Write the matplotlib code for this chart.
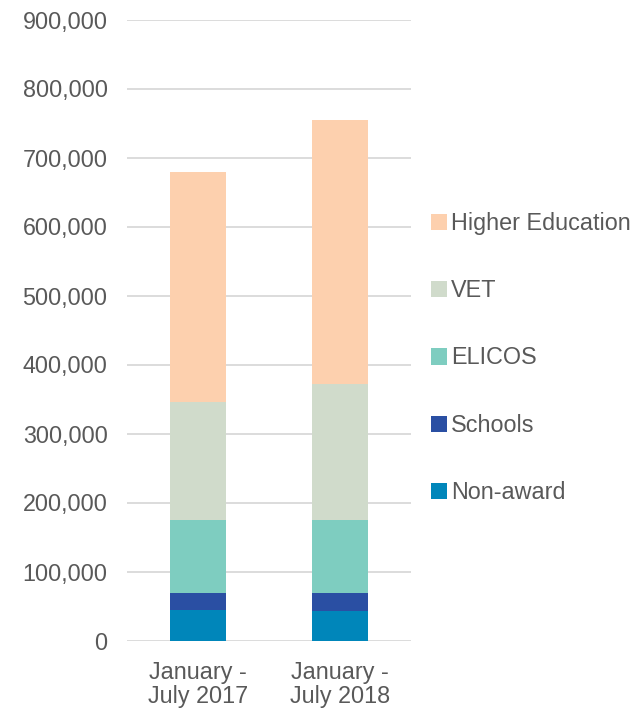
import matplotlib
matplotlib.use("Agg")
import matplotlib.pyplot as plt
from matplotlib.patches import Patch
from matplotlib.ticker import FuncFormatter

categories = ["January -\nJuly 2017", "January -\nJuly 2018"]
series_names = ["Non-award", "Schools", "ELICOS", "VET", "Higher Education"]
non_award = [43800, 43200]
schools = [24600, 26100]
elicos = [106200, 105800]
vet = [171100, 196200]
higher_ed = [333700, 382600]
yticks = [0, 100000, 200000, 300000, 400000, 500000, 600000, 700000, 800000, 900000]

colors = ["#0086BA", "#2A4FA3", "#7ECDC0", "#D0DBCB", "#FDD0AE"]
text_color = "#595959"
fs = 16.8

plt.rcParams['font.family'] = ['Liberation Sans', 'DejaVu Sans']

fig = plt.figure(figsize=(6.37, 7.09), dpi=100)
ax = fig.add_axes([127/637, 1 - 640.5/709, (411-127)/637, (640.5-19.5)/709])

data = [non_award, schools, elicos, vet, higher_ed]
x = list(range(len(categories)))
bottom = [0]*len(categories)
handles = []
for name, vals, c in zip(series_names, data, colors):
    ax.bar(x, vals, width=0.4, bottom=bottom, color=c, label=name, zorder=3)
    bottom = [b + v for b, v in zip(bottom, vals)]
    handles.append(Patch(facecolor=c, label=name))

ax.set_xlim(-0.5, 1.5)
ax.set_ylim(0, 900000)
ax.set_yticks(yticks)
ax.yaxis.set_major_formatter(FuncFormatter(lambda v, p: f"{int(v):,}"))
ax.set_xticks(x)
ax.set_xticklabels(categories, linespacing=1.05)
ax.grid(axis='y', color='#D9D9D9', linewidth=1.3, zorder=0)
for s in ax.spines.values():
    s.set_visible(False)
ax.tick_params(axis='both', length=0, labelsize=fs, colors=text_color)
ax.tick_params(axis='y', pad=14)
ax.tick_params(axis='x', pad=14.5)

leg = fig.legend(handles=handles[::-1], loc='center left',
                 bbox_to_anchor=(410/637, 1 - 358/709), frameon=False,
                 fontsize=fs, handlelength=0.7, handleheight=0.7,
                 handletextpad=0.15, labelspacing=1.9)
for t in leg.get_texts():
    t.set_color(text_color)

fig.savefig("out.png", dpi=100)
